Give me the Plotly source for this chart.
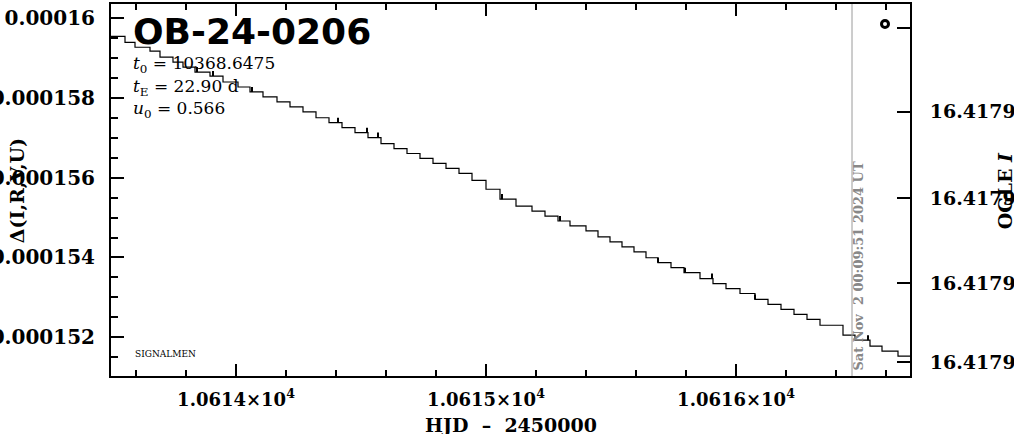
import plotly.graph_objects as go

# ---- data ----
# staircase model: start time of each step (HJD-2450000) and its flux level (units of 1e-6)
step_start = [10613.5, 10613.556, 10613.596, 10613.656, 10613.696, 10613.748, 10613.788, 10613.836,
              10613.896, 10613.948, 10614.008, 10614.056, 10614.108, 10614.164, 10614.216, 10614.268,
              10614.32, 10614.372, 10614.424, 10614.476, 10614.528, 10614.58, 10614.632, 10614.684,
              10614.736, 10614.788, 10614.84, 10614.892, 10614.944, 10615.0, 10615.056, 10615.12,
              10615.184, 10615.236, 10615.288, 10615.336, 10615.4, 10615.448, 10615.496, 10615.544,
              10615.592, 10615.64, 10615.688, 10615.74, 10615.792, 10615.856, 10615.908, 10615.96,
              10616.016, 10616.076, 10616.128, 10616.18, 10616.232, 10616.284, 10616.336, 10616.428,
              10616.476, 10616.536, 10616.584, 10616.648]
step_level = [159.540, 159.391, 159.266, 159.167, 159.017, 158.893, 158.769, 158.644,
              158.545, 158.396, 158.271, 158.147, 158.022, 157.898, 157.774, 157.649,
              157.500, 157.376, 157.251, 157.127, 157.002, 156.853, 156.729, 156.604,
              156.480, 156.356, 156.231, 156.107, 155.933, 155.709, 155.460, 155.286,
              155.162, 155.037, 154.913, 154.789, 154.664, 154.515, 154.390, 154.266,
              154.142, 153.992, 153.868, 153.744, 153.619, 153.470, 153.346, 153.221,
              153.097, 152.948, 152.823, 152.699, 152.575, 152.450, 152.301, 152.052,
              151.928, 151.778, 151.654, 151.530]
step_end = 10616.696

# short vertical marks along the curve (units of 1e-6)
spike_x = [10613.844, 10613.908, 10614.064, 10614.408, 10614.524, 10614.568, 10615.064,
           10615.296, 10615.688, 10615.796, 10615.904, 10616.076, 10616.528]
spike_lo = [158.644, 158.545, 158.147, 157.376, 157.127, 157.002, 155.460,
            154.913, 153.868, 153.619, 153.470, 152.948, 151.928]
spike_hi = [158.77, 158.67, 158.27, 157.50, 157.25, 157.13, 155.59,
            155.04, 153.99, 153.74, 153.60, 153.07, 152.05]

# OGLE I photometry point
ogle_x = [10616.596]
ogle_mag = [16.417859]

date_line_x = 10616.464

x_tickvals = [10614, 10615, 10616]
x_ticktext = ["1.0614×10<sup>4</sup>", "1.0615×10<sup>4</sup>", "1.0616×10<sup>4</sup>"]
y_tickvals = [0.00016, 0.000158, 0.000156, 0.000154, 0.000152]
y_ticktext = ["0.00016", "0.000158", "0.000156", "0.000154", "0.000152"]
y2_tickvals = [16.41786, 16.41788, 16.4179007, 16.417921, 16.41794]
y2_ticktext = ["", "16.4179", "16.4179", "16.4179", "16.4179"]

SC = 1e-6
fig = go.Figure()

fig.add_trace(go.Scatter(
    x=step_start + [step_end],
    y=[v * SC for v in step_level] + [step_level[-1] * SC],
    mode="lines", line=dict(shape="hv", color="black", width=1.2),
    showlegend=False, hoverinfo="skip"))

sx, sy = [], []
for x, lo, hi in zip(spike_x, spike_lo, spike_hi):
    sx += [x, x, None]
    sy += [lo * SC, hi * SC, None]
fig.add_trace(go.Scatter(x=sx, y=sy, mode="lines", line=dict(color="black", width=2),
                         showlegend=False, hoverinfo="skip"))

fig.add_trace(go.Scatter(x=ogle_x, y=ogle_mag, yaxis="y2", mode="markers",
                         marker=dict(symbol="circle-open", size=7, color="black",
                                     line=dict(width=3, color="black")),
                         showlegend=False))

fig.add_shape(type="line", x0=date_line_x, x1=date_line_x, y0=0, y1=1, xref="x", yref="paper",
              line=dict(color="#9a9a9a", width=1))

def tf(size):
    return dict(family="DejaVu Serif", size=size, color="black", weight="bold")

fig.update_layout(
    width=1014, height=434,
    margin=dict(l=111, r=104, t=2, b=58),
    paper_bgcolor="white", plot_bgcolor="white",
    xaxis=dict(range=[10613.5, step_end], showline=True, linecolor="black", linewidth=2,
               mirror="ticks", ticks="inside", ticklen=12, tickwidth=2, tickcolor="black",
               tickvals=x_tickvals, ticktext=x_ticktext, tickfont=tf(18),
               minor=dict(ticks="inside", ticklen=6, tickwidth=2, tickcolor="black",
                          dtick=0.2, tick0=10614),
               showgrid=False, zeroline=False, ticklabelstandoff=6),
    yaxis=dict(range=[0.00015103, 0.00016035], showline=True, linecolor="black", linewidth=2,
               ticks="inside", ticklen=13, tickwidth=2, tickcolor="black",
               tickvals=y_tickvals, ticktext=y_ticktext, tickfont=tf(20),
               minor=dict(ticks="inside", ticklen=7, tickwidth=2, tickcolor="black",
                          dtick=5e-7, tick0=0.00016),
               showgrid=False, zeroline=False, automargin=False, ticklabelstandoff=10),
    yaxis2=dict(overlaying="y", side="right", range=[16.4179433, 16.4178542],
                showline=True, linecolor="black", linewidth=2,
                ticks="inside", ticklen=13, tickwidth=2, tickcolor="black",
                tickvals=y2_tickvals, ticktext=y2_ticktext, tickfont=tf(19),
                showgrid=False, zeroline=False, automargin=False, ticklabelstandoff=14),
)

def ann(text, x, y, size, family="DejaVu Serif", color="black", angle=0,
        xanchor="left", yanchor="middle", weight="normal"):
    fig.add_annotation(text=text, x=x, y=y, xref="paper", yref="paper", showarrow=False,
                       textangle=angle, xanchor=xanchor, yanchor=yanchor,
                       font=dict(family=family, size=size, color=color, weight=weight))

NB = "\u00a0"
ann("OB-24-0206", 0.025, 0.925, 36, family="DejaVu Sans", weight="bold")
ann("<i>t</i><sub>0</sub> = 10368.6475", 0.025, 0.837, 17)
ann("<i>t</i><sub>E</sub> = 22.90 d", 0.025, 0.775, 17)
ann("<i>u</i><sub>0</sub> = 0.566", 0.025, 0.717, 17)
ann("SIGNALMEN", 0.0275, 0.059, 9)
ann(f"Sat Nov{NB}{NB}2 00:09:51 2024 UT", 0.935, 0.297, 13, color="#888888",
    angle=-90, xanchor="center", weight="bold")
ann("Δ(I,R,V,U)", -0.1176, 0.497, 19, angle=-90, xanchor="center", weight="bold")
ann("OGLE <i>I</i>", 1.119, 0.497, 19, angle=-90, xanchor="center", weight="bold")
ann(f"HJD{NB}{NB}\u2013{NB}{NB}2450000", 0.5006, -0.131, 19, xanchor="center", weight="bold")

fig.write_html("out.html", config={"displayModeBar": False},
               post_script="document.body.style.margin='0';document.body.style.overflow='hidden';")
